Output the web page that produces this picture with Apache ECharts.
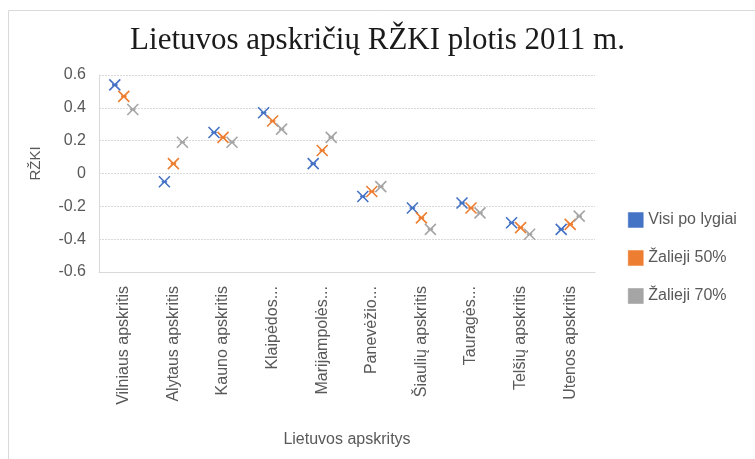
<!DOCTYPE html>
<html>
<head>
<meta charset="utf-8">
<script src="https://cdn.jsdelivr.net/npm/echarts@6/dist/echarts.min.js"></script>
<style>
  html, body { margin: 0; padding: 0; background: #fff; }
  #chart { width: 755px; height: 459px; }
</style>
</head>
<body>
<div id="chart"></div>
<script>
// Counties (axis tick labels as shown)
const categories = [
  'Vilniaus apskritis', 'Alytaus apskritis', 'Kauno apskritis', 'Klaipėdos...',
  'Marijampolės...', 'Panevėžio...', 'Šiaulių apskritis', 'Tauragės...',
  'Telšių apskritis', 'Utenos apskritis'
];

// RŽKI values per scenario
const visiPoLygiai = [0.54, -0.05, 0.25, 0.37, 0.06, -0.14, -0.21, -0.18, -0.30, -0.34];
const zalieji50   = [0.47, 0.06, 0.22, 0.32, 0.14, -0.11, -0.27, -0.21, -0.33, -0.31];
const zalieji70   = [0.39, 0.19, 0.19, 0.27, 0.22, -0.08, -0.34, -0.24, -0.37, -0.26];

const seriesNames = ['Visi po lygiai', 'Žalieji 50%', 'Žalieji 70%'];
const yTicks = [-0.6, -0.4, -0.2, 0, 0.2, 0.4, 0.6];

const colors = ['#4472C4', '#ED7D31', '#A5A5A5'];
const textColor = '#595959';
const font = 'Liberation Sans';

// Excel-style star marker: an X with a short horizontal stroke
const starMarker = 'path://M0,0L10,10M10,0L0,10M2.5,5L7.5,5';

function makeSeries(name, data, color, dx) {
  return {
    name: name,
    type: 'scatter',
    data: data,
    symbol: starMarker,
    symbolSize: 11,
    symbolOffset: [dx, 0],
    itemStyle: { color: color, borderColor: color, borderWidth: 1.6, opacity: 1 }
  };
}

const chart = echarts.init(document.getElementById('chart'), null, { renderer: 'canvas' });

chart.setOption({
  animation: false,
  color: colors,
  title: {
    text: 'Lietuvos apskričių RŽKI plotis 2011 m.',
    left: 'center',
    top: 20,
    textStyle: {
      fontFamily: 'Liberation Serif',
      fontWeight: 'normal',
      fontSize: 31,
      color: '#1a1a1a'
    }
  },
  graphic: [{
    type: 'rect',
    shape: { x: 8.5, y: 10.5, width: 760, height: 470 },
    style: { fill: null, stroke: '#d9d9d9', lineWidth: 1 },
    silent: true
  }],
  legend: {
    orient: 'vertical',
    left: 623,
    top: 207,
    itemWidth: 15,
    itemHeight: 15,
    itemGap: 22,
    icon: 'rect',
    textStyle: { fontFamily: font, fontSize: 16, lineHeight: 16, color: textColor, padding: [0, 0, 0, 0] },
    data: seriesNames.map((n, i) => ({
      name: n,
      itemStyle: { color: colors[i], borderColor: i === 2 ? '#999' : colors[i], borderWidth: 0.5, opacity: 1 }
    }))
  },
  grid: { left: 99, right: 160, top: 75, bottom: 187 },
  xAxis: {
    type: 'category',
    data: categories,
    name: 'Lietuvos apskritys',
    nameLocation: 'middle',
    nameGap: 160,
    nameTextStyle: { fontFamily: font, fontSize: 16, color: textColor },
    axisLine: { onZero: false, lineStyle: { color: '#d9d9d9' } },
    axisTick: { show: false },
    axisLabel: {
      rotate: 90,
      interval: 0,
      margin: 14,
      fontFamily: font,
      fontSize: 16,
      color: textColor
    },
    splitLine: { show: false }
  },
  yAxis: {
    type: 'value',
    min: yTicks[0],
    max: yTicks[yTicks.length - 1],
    interval: 0.2,
    name: 'RŽKI',
    nameLocation: 'middle',
    nameGap: 56,
    nameTextStyle: { fontFamily: font, fontSize: 15, color: textColor, padding: [0, 0, 0, 20] },
    axisLine: { show: true, lineStyle: { color: '#d9d9d9' } },
    axisTick: { show: false },
    axisLabel: {
      margin: 13,
      fontFamily: font,
      fontSize: 16,
      color: textColor,
      formatter: v => String(Math.round(v * 10) / 10)
    },
    splitLine: { lineStyle: { color: '#d9d9d9', type: [2, 1] } }
  },
  series: [
    makeSeries(seriesNames[0], visiPoLygiai, colors[0], -9),
    makeSeries(seriesNames[1], zalieji50, colors[1], 0),
    makeSeries(seriesNames[2], zalieji70, colors[2], 9)
  ]
});
</script>
</body>
</html>
